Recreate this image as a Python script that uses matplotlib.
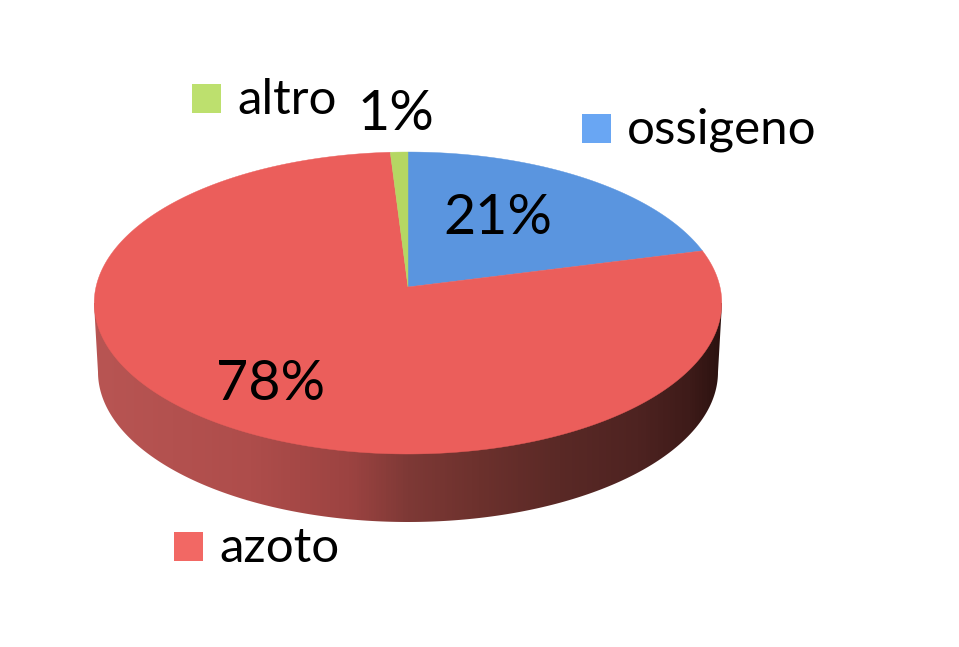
import numpy as np
import matplotlib
matplotlib.use("Agg")
import matplotlib.pyplot as plt
from matplotlib.colors import LinearSegmentedColormap
from matplotlib.patches import Polygon, Rectangle

plt.rcParams['font.family'] = ['Lato', 'DejaVu Sans']

# gas shares, clockwise from twelve o'clock
labels = ['ossigeno', 'azoto', 'altro']
values = [21, 78, 1]
value_text = ['21%', '78%', '1%']
top_colors = ['#5A95DF', '#EB5E5B', '#B5D763']
legend_colors = ['#69A6F3', '#F26864', '#BDE06E']

# label positions in image pixels
value_pos = [(498, 218), (271, 384), (396, 114)]
legend_box = [(582, 114), (174, 532), (192, 84)]
legend_text = [(627, 130), (219, 548), (237, 100)]

# side wall shading, left to right
wall_x = [94, 250, 350, 408, 480, 560, 640, 690, 722]
wall_col = ['#B85553', '#AE4D4B', '#9C4341', '#7E3936', '#6C312D',
            '#5A2926', '#4E2321', '#3E1B19', '#2C1210']


# perspective view of the pie top: unit circle to pixels
def project(theta):
    u = np.sin(theta)
    v = np.cos(theta)
    k = 0.106
    d = 1 + k * v
    return 408 + 312 * u / d, 287 - 149.3 * v / d


fig = plt.figure(figsize=(9.59, 6.47), dpi=100)
ax = fig.add_axes([0, 0, 1, 1])
ax.set_xlim(0, 959)
ax.set_ylim(647, 0)
ax.axis('off')

# side wall: horizontal gradient clipped to the silhouette
t = np.linspace(0, np.pi, 200)
low_x = 408 - 310 * np.cos(t)
low_y = 372 + 150 * np.sin(t)
outline = np.column_stack([np.r_[94, low_x, 722], np.r_[303, low_y, 303]])
pos = (np.array(wall_x) - 94) / (722 - 94)
cmap = LinearSegmentedColormap.from_list('wall', list(zip(pos, wall_col)))
grad = np.linspace(0, 1, 628).reshape(1, -1)
im = ax.imshow(grad, extent=(94, 722, 530, 290), cmap=cmap, aspect='auto', zorder=1)
im.set_clip_path(Polygon(outline, transform=ax.transData))
ax.set_xlim(0, 959)
ax.set_ylim(647, 0)

# top face slices
start = 0.0
for val, col in zip(values, top_colors):
    end = start + val / sum(values) * 2 * np.pi
    th = np.linspace(start, end, max(3, int(val * 6)))
    xs, ys = project(th)
    ax.fill(np.r_[408, xs], np.r_[287, ys], color=col, lw=0.3, zorder=2)
    start = end

for txt, (x, y) in zip(value_text, value_pos):
    ax.text(x, y, txt, fontsize=40, ha='center', va='center', color='black', zorder=3)

for name, col, (bx, by), (tx, ty) in zip(labels, legend_colors, legend_box, legend_text):
    ax.add_patch(Rectangle((bx, by), 29, 29, facecolor=col, edgecolor='none', zorder=3))
    ax.text(tx, ty, name, fontsize=35.5, ha='left', va='center', color='black', zorder=3)

fig.savefig('out.png', dpi=100)
